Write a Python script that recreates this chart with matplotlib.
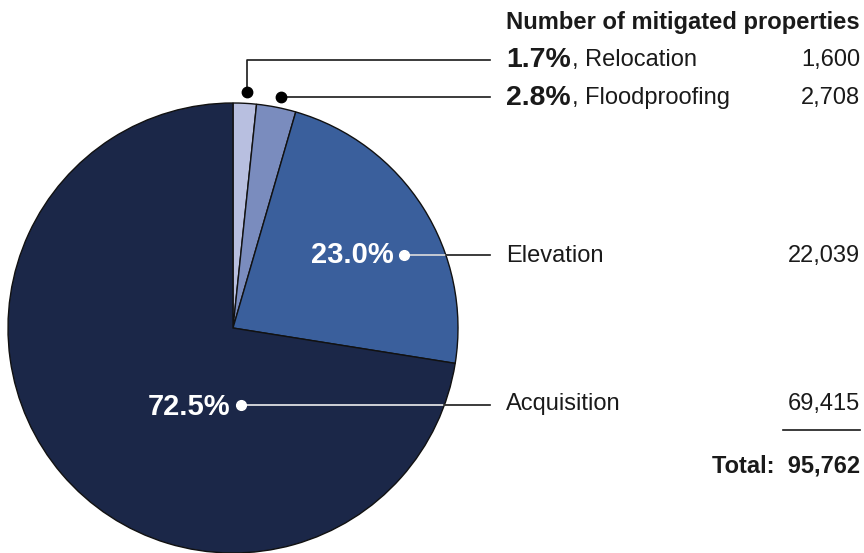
import matplotlib
matplotlib.use("Agg")
import matplotlib.pyplot as plt

categories = ["Relocation", "Floodproofing", "Elevation", "Acquisition"]
counts = [1600, 2708, 22039, 69415]
pct_labels = ["1.7%", "2.8%", "23.0%", "72.5%"]
total_label = "95,762"
header = "Number of mitigated properties"
colors = ["#b8bfe0", "#7a8cbe", "#3a5f9c", "#1b2748"]

plt.rcParams['font.family'] = ['Liberation Sans', 'DejaVu Sans']

W, H = 864, 553
fig = plt.figure(figsize=(W / 100, H / 100), dpi=100)
ax = fig.add_axes([0, 0, 1, 1])
ax.set_xlim(0, W)
ax.set_ylim(0, H)
ax.set_aspect('equal')
ax.axis('off')

def Y(y):
    return H - y

cx, cy, R = 233, 328, 225
ax.pie(counts, colors=colors, startangle=90, counterclock=False,
       center=(cx, Y(cy)), radius=R,
       wedgeprops=dict(edgecolor='#111111', linewidth=1.0))
ax.set_xlim(0, W)
ax.set_ylim(0, H)

line_end = 490
text_x = 506
num_x = 860
dark = '#1a1a1a'

# Relocation leader
d1 = (247, 92)
ax.plot([d1[0], d1[0], line_end], [Y(d1[1]), Y(60), Y(60)], color=dark, lw=1.2)
ax.plot(d1[0], Y(d1[1]), 'o', color='black', ms=7.5)
# Floodproofing leader
d2 = (281, 97)
ax.plot([d2[0], line_end], [Y(d2[1]), Y(d2[1])], color=dark, lw=1.2)
ax.plot(d2[0], Y(d2[1]), 'o', color='black', ms=7.5)

# Elevation leader
ye = 255
edge_e = 446
ax.plot([404, edge_e], [Y(ye), Y(ye)], color='#dddddd', lw=1.2)
ax.plot([edge_e, line_end], [Y(ye), Y(ye)], color=dark, lw=1.2)
ax.plot(404, Y(ye), 'o', color='white', ms=7)
# Acquisition leader
ya = 405
edge_a = 444
ax.plot([241, edge_a], [Y(ya), Y(ya)], color='#eeeeee', lw=1.2)
ax.plot([edge_a, line_end], [Y(ya), Y(ya)], color=dark, lw=1.2)
ax.plot(241, Y(ya), 'o', color='white', ms=7)

# Header
ax.text(num_x, Y(22), header, ha='right', va='center', fontsize=17.1,
        fontweight='bold', color=dark)

big = 20.4
pie_fs = 21
norm = 17
for (i, y) in [(0, 60), (1, 98)]:
    t = ax.text(text_x, Y(y), pct_labels[i], ha='left', va='center',
                fontsize=big, fontweight='bold', color=dark)
    fig.canvas.draw()
    bb = t.get_window_extent()
    ax.text(bb.x1 + 1, Y(y), ", " + categories[i], ha='left', va='center',
            fontsize=norm, color=dark)
    ax.text(num_x, Y(y), f"{counts[i]:,}", ha='right', va='center',
            fontsize=norm, color=dark)

for (i, y) in [(2, 256), (3, 404)]:
    ax.text(text_x, Y(y), categories[i], ha='left', va='center',
            fontsize=norm, color=dark)
    ax.text(num_x, Y(y), f"{counts[i]:,}", ha='right', va='center',
            fontsize=norm, color=dark)

# in-pie percentages
ax.text(394, Y(255), pct_labels[2], ha='right', va='center', fontsize=pie_fs,
        fontweight='bold', color='white')
ax.text(230, Y(407), pct_labels[3], ha='right', va='center', fontsize=pie_fs,
        fontweight='bold', color='white')

# total rule and label
ax.plot([783, num_x], [Y(430), Y(430)], color=dark, lw=1.2)
ax.text(num_x, Y(466), "Total:  " + total_label, ha='right', va='center',
        fontsize=norm, fontweight='bold', color=dark)

fig.savefig("out.png", dpi=100)
